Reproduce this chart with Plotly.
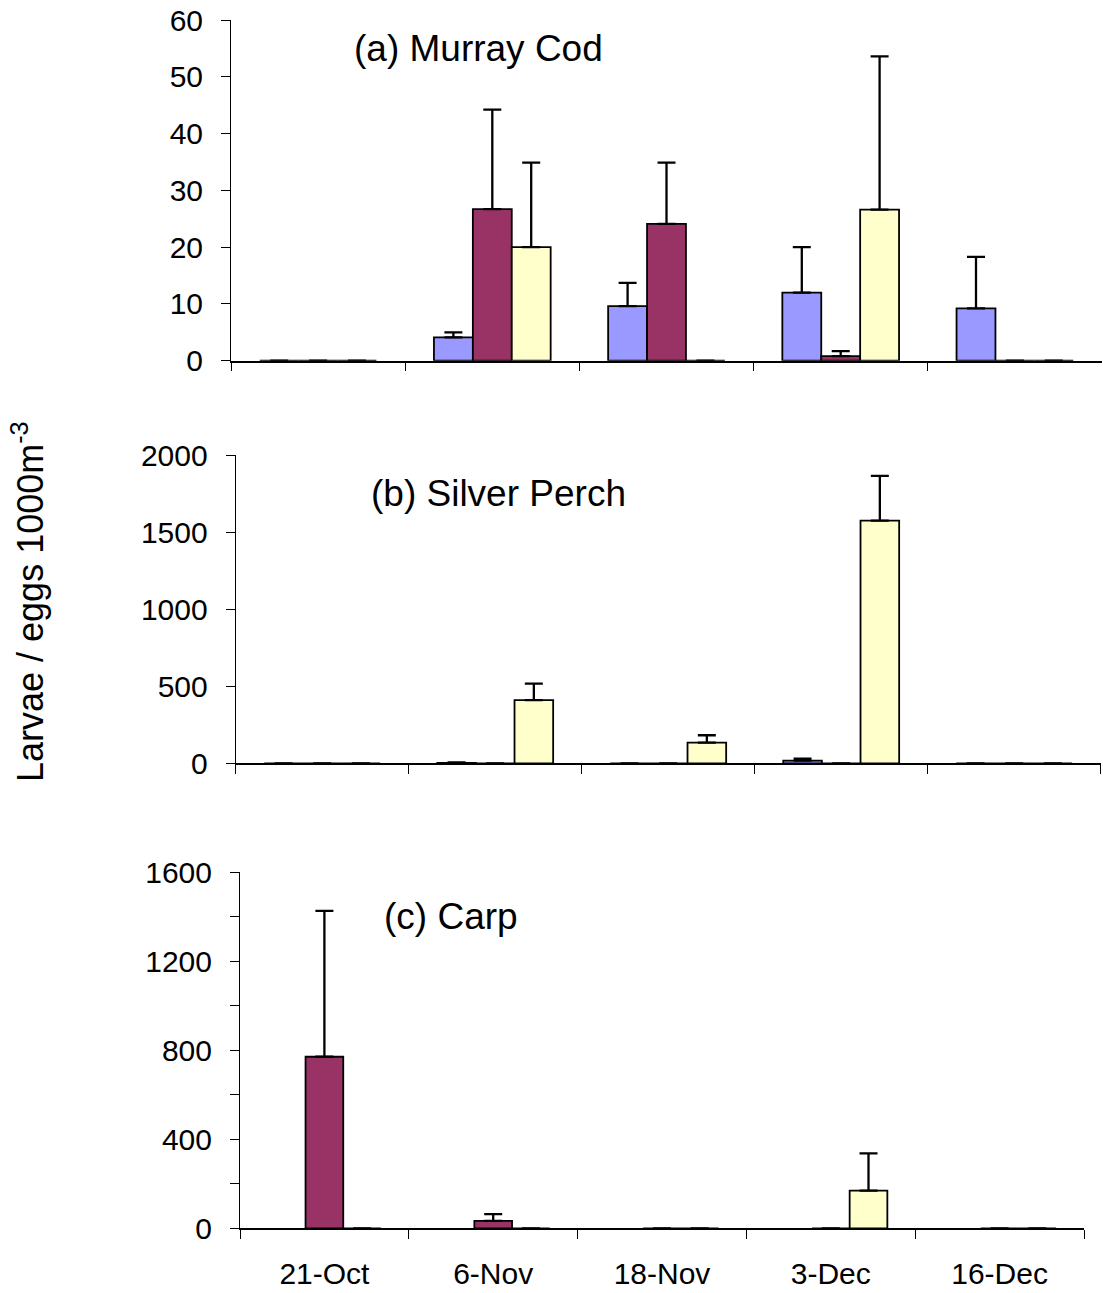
import plotly.graph_objects as go

W, H = 1103, 1293

dates = ["21-Oct", "6-Nov", "18-Nov", "3-Dec", "16-Dec"]
series_names = ["Site 1", "Site 2", "Site 3"]
colors = ["#9999FF", "#993366", "#FFFFCC"]

# (a) Murray Cod: means and upper error (SE)
cod_vals = [[0, 4.1, 9.6, 12.0, 9.2],
            [0, 26.7, 24.1, 0.8, 0],
            [0, 20.0, 0, 26.6, 0]]
cod_err = [[0, 0.9, 4.1, 8.0, 9.1],
           [0, 17.5, 10.8, 0.9, 0],
           [0, 14.9, 0, 27.0, 0]]

# (b) Silver Perch
perch_vals = [[0, 3, 0, 17, 0],
              [0, 0, 0, 0, 0],
              [0, 410, 134, 1574, 0]]
perch_err = [[0, 3, 0, 13, 0],
             [0, 0, 0, 0, 0],
             [0, 107, 48, 290, 0]]

# (c) Carp (no data for the first series)
carp_vals = [[None, None, None, None, None],
             [771, 33, 0, 0, 0],
             [0, 0, 0, 169, 0]]
carp_err = [[None, None, None, None, None],
            [656, 31, 0, 0, 0],
            [0, 0, 0, 168, 0]]

panels = [
    dict(vals=cod_vals, err=cod_err, title="(a) Murray Cod",
         x=(231, 1102), y=(20, 360.7), yr=60, dtick=10, minor=None,
         tx=352, ty=48),
    dict(vals=perch_vals, err=perch_err, title="(b) Silver Perch",
         x=(235.7, 1100.7), y=(455, 763.3), yr=2000, dtick=500, minor=None,
         tx=369, ty=494),
    dict(vals=carp_vals, err=carp_err, title="(c) Carp",
         x=(240, 1084), y=(872.3, 1228.3), yr=1600, dtick=400, minor=200,
         tx=382, ty=916),
]

FONT = "Liberation Sans, Arial, sans-serif"
fig = go.Figure()

for i, p in enumerate(panels):
    n = i + 1
    xa = "x" if n == 1 else f"x{n}"
    ya = "y" if n == 1 else f"y{n}"
    for s in range(3):
        fig.add_trace(go.Bar(
            x=dates, y=p["vals"][s], name=series_names[s],
            xaxis=xa, yaxis=ya, showlegend=False,
            marker=dict(color=colors[s], line=dict(color="black", width=1.8)),
            error_y=dict(type="data", symmetric=False, array=p["err"][s],
                         arrayminus=[0 if v is not None else None for v in p["err"][s]],
                         color="black", thickness=2.3, width=9),
        ))
    x0, x1 = p["x"]
    yt0, yb0 = p["y"]
    xdom = [x0 / W, x1 / W]
    ydom = [1 - yb0 / H, 1 - yt0 / H]
    yaxis = dict(
        domain=ydom, anchor=xa, range=[0, p["yr"]], automargin=False,
        tick0=0, dtick=p["dtick"], ticks="outside", ticklen=9,
        tickwidth=1, tickcolor="black", showline=True, linecolor="black",
        linewidth=1, showgrid=False, zeroline=False,
        ticklabelstandoff=12,
        tickfont=dict(family=FONT, size=30, color="black"),
    )
    if p["minor"]:
        yaxis["minor"] = dict(tick0=0, dtick=p["minor"], ticks="outside",
                              ticklen=9, tickwidth=1, tickcolor="black",
                              showgrid=False)
    fig.update_layout(**{
        ("xaxis" if n == 1 else f"xaxis{n}"): dict(
            domain=xdom, anchor=ya, type="category", range=[-0.5, 4.5],
            tickson="boundaries", ticks="outside", ticklen=9, tickwidth=1,
            tickcolor="black", showline=True, linecolor="black", linewidth=1.5,
            showgrid=False, zeroline=False, fixedrange=True, automargin=False,
            showticklabels=(n == 3), ticklabelstandoff=18,
            tickfont=dict(family=FONT, size=30, color="black"),
        ),
        ("yaxis" if n == 1 else f"yaxis{n}"): yaxis,
    })
    fig.add_annotation(text=p["title"], xref="paper", yref="paper",
                       x=p["tx"] / W, y=1 - p["ty"] / H, xanchor="left",
                       yanchor="middle", showarrow=False,
                       font=dict(family=FONT, size=37, color="black"))

fig.add_annotation(text="Larvae / eggs 1000m<sup>-3</sup>", xref="paper", yref="paper",
                   x=28 / W, y=1 - 602 / H, xanchor="center", yanchor="middle",
                   textangle=-90, showarrow=False,
                   font=dict(family=FONT, size=36, color="black"))

fig.update_layout(
    width=W, height=H, margin=dict(l=0, r=0, t=0, b=0, autoexpand=False),
    paper_bgcolor="white", plot_bgcolor="white",
    barmode="group", bargap=0.33, bargroupgap=0,
)

fig.write_html("out.html")
